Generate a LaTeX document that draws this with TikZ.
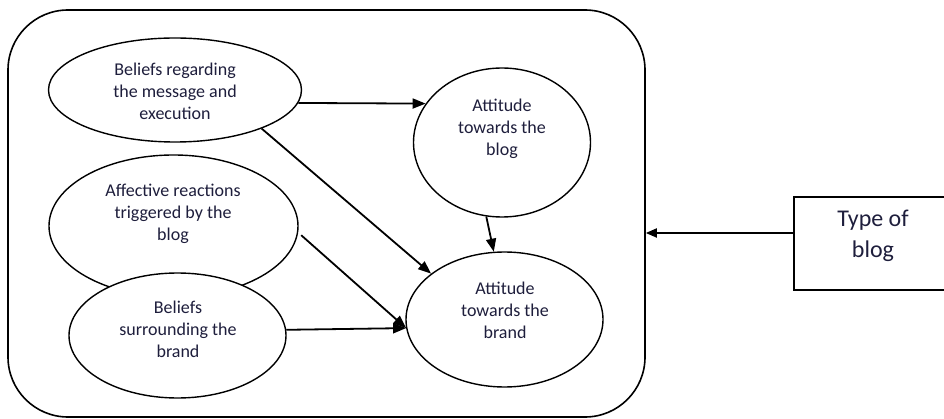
\documentclass[tikz,border=0pt]{standalone}
\usepackage{fontspec}
\setmainfont{Carlito}
\usetikzlibrary{calc,arrows.meta,shapes.geometric}

\definecolor{inktext}{RGB}{30,30,60}

\tikzset{
  blob/.style  = {ellipse, draw, line width=1.4pt, fill=white, inner sep=0pt},
  words/.style = {align=center, text=inktext, font=\fontsize{18}{22}\selectfont},
  arr/.style   = {line width=1.8pt, -{Triangle[length=13pt,width=10pt]}},
}

\begin{document}
\begin{tikzpicture}[x=1pt,y=-1pt]
  \useasboundingbox (0,0) rectangle (944,419);

  % outer frame
  \node[draw, line width=1.6pt, rounded corners=60pt, minimum width=637pt,
        minimum height=407pt, inner sep=0pt] (frame) at (326.5,213.5) {};

  % ellipses
  \node[blob, minimum width=253pt, minimum height=104pt] (regard)   at (175,90)      {};
  \node[blob, minimum width=249pt, minimum height=142pt] (affect)   at (173.5,226)   {};
  \node[blob, minimum width=217pt, minimum height=125pt] (surround) at (177.5,335.5) {};
  \node[blob, minimum width=177pt, minimum height=149pt] (blog)     at (502,142.5)   {};
  \node[blob, minimum width=197pt, minimum height=135pt] (brand)    at (504.5,319.5) {};

  \node[words] (regard-t)   at (175,91)   {Beliefs regarding\\the message and\\execution};
  \node[words] (affect-t)   at (173,214)  {Affective reactions\\triggered by the\\blog};
  \node[words] (surround-t) at (178,329)  {Beliefs\\surrounding the\\brand};
  \node[words] (blog-t)     at (502,129)  {Attitude\\towards the\\blog};
  \node[words] (brand-t)    at (505,310)  {Attitude\\towards the\\brand};

  % type of blog
  \node[draw, line width=1.6pt, minimum width=158pt, minimum height=93pt,
        inner sep=0pt] (kind) at (873,243.5) {};
  \node[words, font=\fontsize{24}{31}\selectfont] (kind-t) at (873,236) {Type of\\blog};

  % arrows
  \draw[arr] (regard.-6.6) -- (blog.153);
  \draw[arr] (regard.-24.4) -- (brand.148.2);
  \draw[arr, shorten <=4pt] (affect.-3.1) -- (brand.185);
  \draw[arr] (surround.3.4) -- (brand.185.7);
  \draw[arr] (blog.258.6) -- (brand.99.7);
  \draw[arr, -{Triangle[length=11pt,width=9pt]}] ([yshift=10.5pt]kind.west) -- ([yshift=10.5pt]kind.west -| frame.east);
\end{tikzpicture}
\end{document}
